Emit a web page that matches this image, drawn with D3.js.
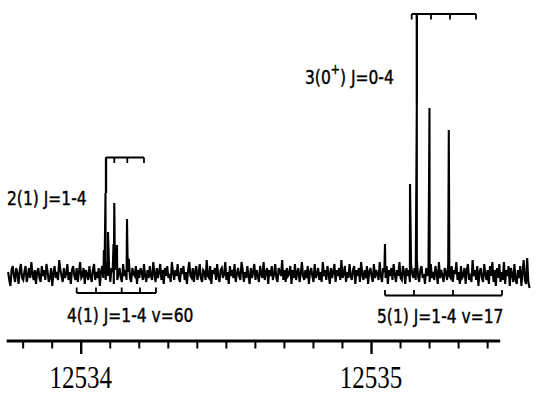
<!DOCTYPE html>
<html>
<head>
<meta charset="utf-8">
<script src="https://cdn.jsdelivr.net/npm/d3@7"></script>
<style>
html,body{margin:0;padding:0;background:#fff;}
svg{display:block;}
</style>
</head>
<body>
<svg id="chart" width="553" height="415"></svg>
<script>
// ---- data ----
const majorTicks = [12534, 12535];
const tickLabels = ["12534", "12535"];
const minorTicks = [12533.8,12533.9,12534.1,12534.2,12534.3,12534.4,12534.5,12534.6,12534.7,12534.8,12534.9,12535.1,12535.2,12535.3,12535.4];
const axisExtent = [12533.745, 12535.445];

const scanStart = 12533.750;
const scanStep = 0.004;
const noise = [
  1,-3,-6,2,4,-1,-4,3,0,-5,2,5,-2,-3,1,4,-4,-1,3,-2,6,0,-3,2,-5,1,3,-2,-4,4,
  -1,2,-3,5,1,-4,-2,3,-6,0,4,-2,1,-3,7,2,-1,-4,3,-2,0,5,-3,1,-5,2,4,-1,-3,3,
  -4,1,6,-2,-1,3,-5,2,0,-3,4,-1,-4,2,5,-3,1,-2,3,-6,1,4,-2,0,-3,6,-1,2,-4,3,
  1,-5,2,4,-3,0,3,-2,-4,5,-1,2,-3,1,7,-2,-4,3,0,-1,4,-5,2,-2,3,1,-3,5,-1,-4,
  2,-2,4,-1,-3,6,0,-4,3,-2,1,5,-3,2,-5,3,-1,4,-2,0,-4,6,1,-3,2,-1,5,-2,-4,3,
  0,4,-3,1,-5,2,6,-1,-2,3,-4,1,4,-3,0,5,-2,-4,2,1,-3,7,-1,-2,4,-5,2,0,3,-3,
  5,-1,-4,2,3,-2,0,6,-3,1,-5,4,-1,2,-2,5,-4,0,3,-1,-3,6,2,-4,1,-2,4,-1,-5,3,
  -2,1,5,-3,2,-1,-4,4,0,-2,6,-3,1,3,-5,2,-1,4,-3,0,5,-2,-4,3,1,-1,7,-3,2,-4,
  3,-1,0,4,-5,2,-2,5,-3,1,3,-4,0,6,-1,-3,2,-2,4,-5,1,3,-1,-4,5,-2,0,3,-3,1,
  -4,6,-1,2,-3,4,0,-5,3,-2,1,5,-4,2,-1,3,-3,7,-2,0,4,-4,1,-2,5,-1,-3,2,4,-5,
  2,-1,3,-4,6,0,-3,2,-2,4,-5,1,3,-1,-4,5,-2,2,0,-3,6,-1,-4,3,1,-2,4,-5,2,-1,
  3,-3,5,0,-4,2,-1,6,-2,-3,4,1,-5,3,-1,2,-4,5,0,-2,3,-3,7,-1,-4,2,4,-2,0,-5,
  3,-1,2,-4,5,-2,1,-3,4,0,-5,6,-2,2,-1,-4,3,1,-3,5,-1,-2,4,-4,2,0,6,-3,1,-5,
  4,-2,-1,3,-5,2,5,-3,0,-4,7,-1,2,-3,4,-6,1,3,-2,-4,5,0,-3,2,-5,4,-1,6,-4,2,
  -6,3,-2,5,-4,1,-3,6,-5,2,-1,4,-6,3,0,-4,5,-3,-5,2,-2,4,-6,1,7,-3,-5,8,-4,-7
];
// sharp lines: position (cm-1) and height
const peakPos = [12534.0800, 12534.0854, 12534.0940, 12534.0990,
                 12534.1130, 12534.1157, 12534.1190, 12534.1250, 12534.1595, 12534.1620,
                 12535.0482, 12535.1344, 12535.1578, 12535.2015, 12535.2680];
const peakHeight = [12, 40.5, 21, 2,
                    15, 35.5, 10, 14.5, 27.5, 8,
                    15, 45, 85.5, 83, 72];

// assignment brackets
const bracketNames = ["2(1)", "3(0+)", "4(1)", "5(1)"];
const bracketLevel = [58.25, 130, -9.5, -10.75];
const bracketTicks = [
  [12534.0872, 12534.1157, 12534.1605, 12534.2180],
  [12535.1402, 12535.1578, 12535.2067, 12535.2721, 12535.3617],
  [12533.9862, 12534.0527, 12534.1412, 12534.2043, 12534.2594],
  [12535.0482, 12535.1481, 12535.2824, 12535.4512]
];
const bracketDir = [1, 1, -1, -1];   // 1: ticks hang down, -1: ticks point up
const connectTo = [40.5, 85.5, null, null]; // first line joins the peak top

// ---- drawing ----
const svg = d3.select("#chart");
const x = d3.scaleLinear().domain([12534, 12535]).range([80.7, 371]);
const y = d3.scaleLinear().domain([0, 130]).range([274, 14]);

// trace
const pts = noise.map((n, i) => ({v: scanStart + i * scanStep, h: n}))
  .concat(peakPos.map((p, i) => ({v: p, h: peakHeight[i]})))
  .sort((a, b) => a.v - b.v);
svg.append("path")
  .attr("d", d3.line().x(d => x(d.v)).y(d => y(d.h))(pts))
  .attr("fill", "none").attr("stroke", "#000")
  .attr("stroke-width", 2.1).attr("stroke-linejoin", "miter");

// brackets
bracketTicks.forEach((ticks, k) => {
  const g = svg.append("g");
  const yl = y(bracketLevel[k]);
  g.append("line")
    .attr("x1", x(ticks[0])).attr("x2", x(ticks[ticks.length - 1]))
    .attr("y1", yl).attr("y2", yl)
    .attr("stroke", "#000").attr("stroke-width", 2);
  g.selectAll("line.t").data(ticks).join("line").attr("class", "t")
    .attr("x1", d => x(d)).attr("x2", d => x(d))
    .attr("y1", yl).attr("y2", yl + bracketDir[k] * 5.5)
    .attr("stroke", "#000").attr("stroke-width", 1.8);
  if (connectTo[k] !== null) {
    const cx = k === 1 ? ticks[1] : ticks[0];
    g.append("line")
      .attr("x1", x(cx)).attr("x2", x(cx))
      .attr("y1", yl).attr("y2", y(connectTo[k]))
      .attr("stroke", "#000").attr("stroke-width", 2.3);
  }
});

// labels
function label(xp, yp, parts) {
  const t = svg.append("text")
    .attr("transform", `translate(${xp},${yp}) scale(1,1.3)`)
    .attr("font-family", "DejaVu Sans, Verdana, sans-serif")
    .attr("font-size", 15.5).attr("fill", "#000")
    .attr("stroke", "#000").attr("stroke-width", 0.35);
  parts.forEach(p => {
    const ts = t.append("tspan").text(p.t);
    if (p.sup) ts.attr("font-size", 11).attr("dy", -7);
    if (p.down) ts.attr("dy", 7);
  });
}
label(7, 205, [{t: "2(1) J=1-4"}]);
label(305, 83.5, [{t: "3(0"}, {t: "+", sup: true}, {t: ") J=0-4", down: true}]);
label(67, 322, [{t: "4(1) J=1-4 v=60"}]);
label(377, 323, [{t: "5(1) J=1-4 v=17"}]);

// axis
const axY = 341;
svg.append("line")
  .attr("x1", x(axisExtent[0])).attr("x2", x(axisExtent[1]))
  .attr("y1", axY).attr("y2", axY)
  .attr("stroke", "#000").attr("stroke-width", 3);
const minorAxis = svg.append("g").attr("transform", `translate(0,${axY})`)
  .call(d3.axisBottom(x).tickValues(minorTicks).tickSize(7.5).tickSizeOuter(0).tickFormat(""));
minorAxis.select(".domain").remove();
minorAxis.selectAll(".tick line").attr("stroke", "#000").attr("stroke-width", 2);
const majorAxis = svg.append("g").attr("transform", `translate(0,${axY})`)
  .call(d3.axisBottom(x).tickValues(majorTicks).tickSize(13).tickSizeOuter(0).tickFormat(""));
majorAxis.select(".domain").remove();
majorAxis.selectAll(".tick line").attr("stroke", "#000").attr("stroke-width", 2.4);

svg.selectAll("text.tl").data(majorTicks).join("text").attr("class", "tl")
  .attr("transform", d => `translate(${x(d)},388) scale(1,1.3)`)
  .attr("text-anchor", "middle")
  .attr("font-family", "Liberation Serif, Times New Roman, serif")
  .attr("font-size", 25).attr("fill", "#000")
  .text((d, i) => tickLabels[i]);
</script>
</body>
</html>
